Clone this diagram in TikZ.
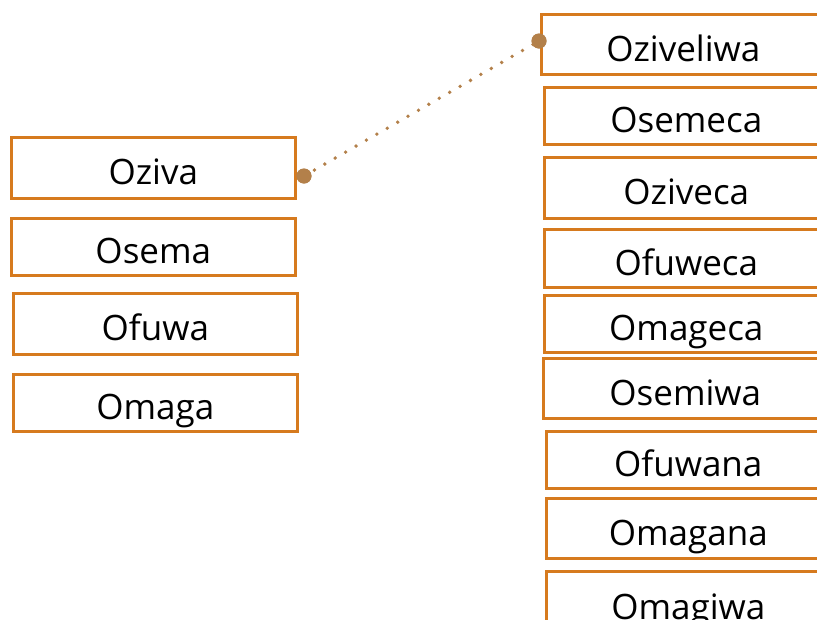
\documentclass[tikz,border=0pt]{standalone}
\usepackage{fontspec}
\setmainfont{Open Sans}
\definecolor{boxor}{HTML}{D67A1E}
\definecolor{dotbr}{HTML}{B3804A}
\begin{document}
\begin{tikzpicture}[x=1pt,y=-1pt,
  wordbox/.style={draw=boxor, line width=2.6pt, fill=white, minimum width=284pt,
    inner sep=0pt, anchor=north west, text height=34pt, text depth=0pt,
    font=\fontsize{35}{40}\selectfont, text=black},
  enddot/.style={circle, fill=dotbr, inner sep=0pt, minimum size=15pt},
  link/.style={dotbr, line width=3.8pt, line cap=round, dash pattern=on 0pt off 12pt}]
\useasboundingbox (0,0) rectangle (817,619);
% left column
\node[wordbox, minimum height=61pt] (oziva) at (10,136) {Oziva};
\node[wordbox, minimum height=57pt] (osema) at (10,217) {Osema};
\node[wordbox, minimum height=61pt] (ofuwa) at (12,292) {Ofuwa};
\node[wordbox, minimum height=57pt] (omaga) at (12,373) {Omaga};
% right column
\node[wordbox, minimum height=60pt] (oziveliwa) at (540,13) {Oziveliwa};
\node[wordbox, minimum height=57pt] (osemeca) at (543,86) {Osemeca};
\node[wordbox, minimum height=61pt] (oziveca) at (543,156) {Oziveca};
\node[wordbox, minimum height=58pt] (ofuweca) at (543,228) {Ofuweca};
\node[wordbox, minimum height=57pt] (omageca) at (543,294) {Omageca};
\node[wordbox, minimum height=60pt] (osemiwa) at (542,357) {Osemiwa};
\node[wordbox, minimum height=57pt] (ofuwana) at (545,430) {Ofuwana};
\node[wordbox, minimum height=60pt] (omagana) at (545,497) {Omagana};
\node[wordbox, minimum height=62pt] (omagiwa) at (545,570) {Omagiwa};
% connector
\node[enddot] (dl) at (304,176) {};
\node[enddot] (dr) at (539,41) {};
\draw[link] (dl.center) -- (dr.center);
\node[enddot] at (dl) {};
\node[enddot] at (dr) {};
\end{tikzpicture}
\end{document}
